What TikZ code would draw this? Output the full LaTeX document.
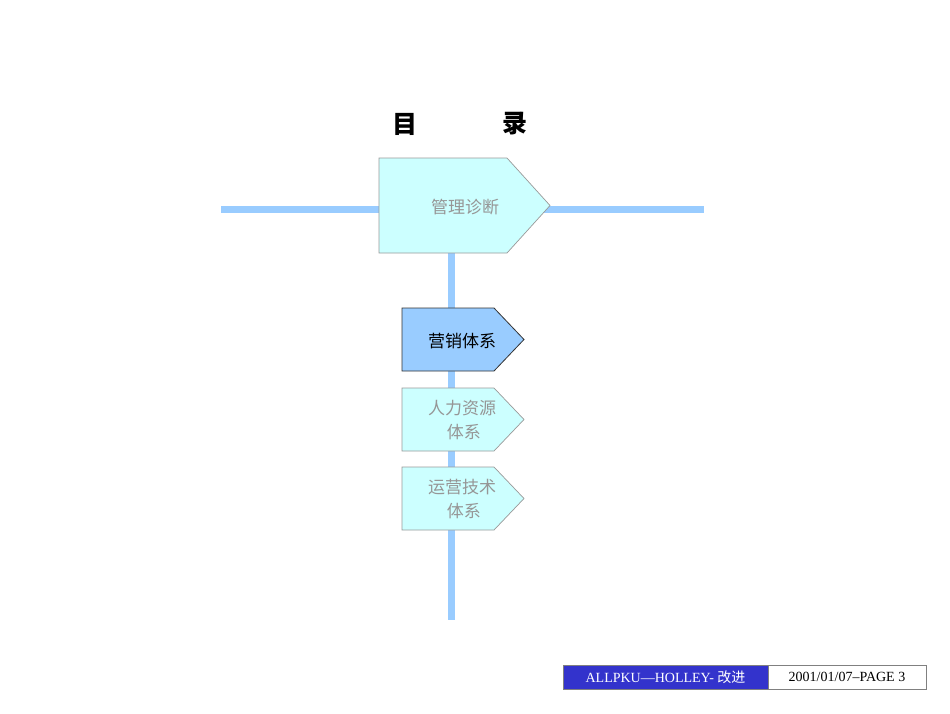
\documentclass[tikz,border=0pt]{standalone}
\usepackage{fontspec}
\setmainfont{Liberation Serif}
\newfontfamily\cjk{Noto Sans CJK SC}
\definecolor{lineblue}{RGB}{153,204,255}
\definecolor{boxcyan}{RGB}{204,255,255}
\definecolor{boxblue}{RGB}{153,204,255}
\definecolor{txtgray}{RGB}{150,150,150}
\definecolor{footblue}{RGB}{51,51,204}
\begin{document}
\begin{tikzpicture}[x=1pt,y=-1pt,
  conn/.style={draw=lineblue,line width=7pt},
  pent/.style={draw=gray!80,fill=boxcyan,line width=0.7pt},
  lbl/.style={font=\cjk\fontsize{17}{21}\selectfont,text=txtgray,align=center}]
\useasboundingbox[fill=white] (0,0) rectangle (950,713);
\coordinate (hl) at (221,209); \coordinate (hr) at (704,209);
\coordinate (vt) at (451,253); \coordinate (vb) at (451,620);
\draw[conn] (hl) -- (hr);
\draw[conn] (vt) -- (vb);
\draw[pent] (379,158) -- (507,158) -- (550,205.5) -- (507,253) -- (379,253) -- cycle;
\node[lbl] (a) at (465,207) {管理诊断};
\draw[draw=black!80,fill=boxblue,line width=0.8pt] (402,308) -- (494,308) -- (524,339.5) -- (494,371) -- (402,371) -- cycle;
\node[lbl,text=black] (b) at (462,341) {营销体系};
\draw[pent] (402,388) -- (494,388) -- (524,419.5) -- (494,451) -- (402,451) -- cycle;
\node[lbl,font=\cjk\fontsize{17}{24}\selectfont] (c) at (462,420) {人力资源\\\ 体系};
\draw[pent] (402,467) -- (494,467) -- (524,498.5) -- (494,530) -- (402,530) -- cycle;
\node[lbl,font=\cjk\fontsize{17}{24}\selectfont] (d) at (462,499) {运营技术\\\ 体系};
\node[font=\cjk\bfseries\fontsize{25}{30}\selectfont] (t1) at (405,124) {目};
\node[font=\cjk\bfseries\fontsize{25}{30}\selectfont] (t2) at (515,124) {录};
\node[draw=gray,fill=footblue,text=white,minimum width=205pt,minimum height=24pt,inner sep=0pt,font=\fontsize{14}{16}\selectfont] (f1) at (665.5,677) {ALLPKU---HOLLEY- {\cjk 改进}};
\node[draw=gray,fill=white,minimum width=158pt,minimum height=24pt,inner sep=0pt,font=\fontsize{14}{16}\selectfont] (f2) at (847,677) {2001/01/07--PAGE 3};
\end{tikzpicture}
\end{document}
